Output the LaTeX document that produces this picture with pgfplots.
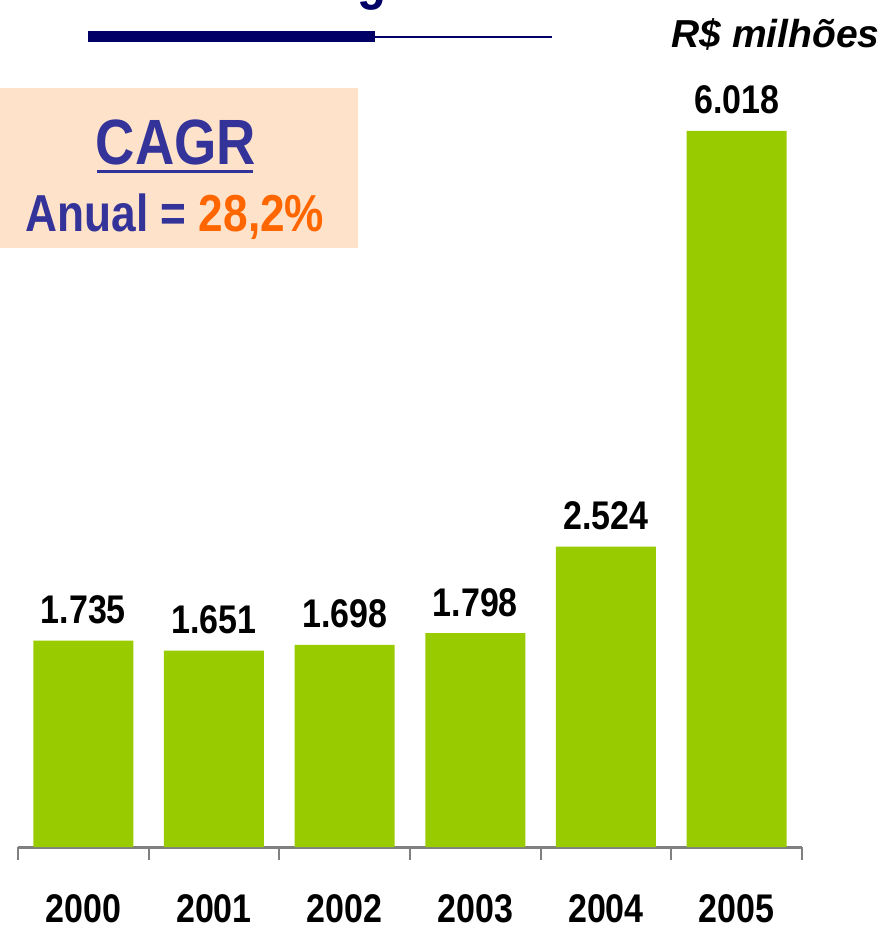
\documentclass[border=0pt]{standalone}
\usepackage{pgfplots}
\pgfplotsset{compat=1.18}
\usepackage{fontspec}
\setmainfont{Liberation Sans}[FakeStretch=0.85]
\newfontfamily\plainsans{Liberation Sans}
\definecolor{barg}{HTML}{99CC00}
\definecolor{navy}{HTML}{000066}
\definecolor{cblue}{HTML}{333399}
\definecolor{corange}{HTML}{FF6600}
\definecolor{peach}{HTML}{FEE3CA}
\begin{document}
\begin{tikzpicture}
% 1px = 0.5pt, origin at bottom-left of the picture
\useasboundingbox (0,0) rectangle (444pt,463pt);

% title remnant and rule
\node[anchor=base, font=\bfseries\fontsize{28pt}{32pt}\selectfont, text=navy, inner sep=0]
  at (186pt,463.5pt) {g};
\draw[navy, line width=5.5pt] (44pt,444.5pt) -- (187.5pt,444.5pt);
\draw[navy, line width=1pt] (187.5pt,444.5pt) -- (276pt,444.5pt);
\node[anchor=base east, inner sep=0, font=\plainsans\bfseries\itshape\fontsize{19.5pt}{23pt}\selectfont]
  at (440pt,439pt) {R\$ milhões};

% CAGR box
\fill[peach] (0pt,339pt) rectangle (179pt,419pt);
\node[anchor=base, inner sep=0, text=cblue, font=\bfseries\fontsize{32pt}{38pt}\selectfont]
  at (88pt,380.5pt) {CAGR};
\draw[cblue, line width=1.5pt] (48.5pt,377pt) -- (126.5pt,377pt);
\node[anchor=base, inner sep=0, text=cblue, font=\bfseries\fontsize{26pt}{31pt}\selectfont]
  at (87.5pt,347pt) {Anual = \textcolor{corange}{28,2\%}};

\begin{axis}[
  at={(9pt,39.5pt)}, anchor=south west,
  scale only axis,
  width=392pt, height=358pt,
  xmin=-0.5, xmax=5.5,
  ymin=0, ymax=6018,
  clip=false,
  axis x line*=bottom,
  hide y axis,
  axis line style={-, draw=gray, line width=1.5pt},
  xtick={0,...,5},
  xticklabels={2000,2001,2002,2003,2004,2005},
  major tick length=0pt,
  minor xtick={-0.5,0.5,1.5,2.5,3.5,4.5,5.5},
  minor tick length=6.5pt,
  tick align=outside,
  minor tick style={draw=gray, line width=1pt},
  major tick style={draw=none},
  xticklabel style={anchor=base, yshift=-37.5pt, inner sep=0pt,
    font=\bfseries\fontsize{20pt}{24pt}\selectfont},
  nodes near coords={\pgfplotspointmeta},
  point meta=explicit symbolic,
  every node near coord/.append style={anchor=base, inner sep=0pt, yshift=8.5pt,
    font=\bfseries\fontsize{20pt}{24pt}\selectfont, text=black},
]
\addplot[ybar, bar width=50pt, fill=barg, draw=none] coordinates {
  (0,1735) [1.735]
  (1,1651) [1.651]
  (2,1698) [1.698]
  (3,1798) [1.798]
  (4,2524) [2.524]
  (5,6018) [6.018]
};
\end{axis}
\end{tikzpicture}
\end{document}
